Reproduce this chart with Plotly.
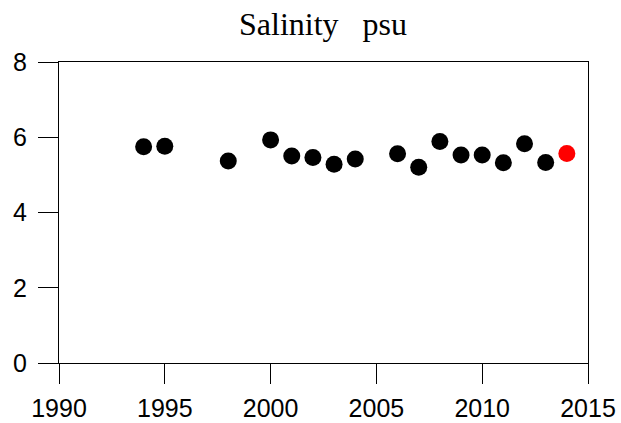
import plotly.graph_objects as go

# Annual mean salinity (psu)
years = [1994, 1995, 1998, 2000, 2001, 2002, 2003, 2004, 2006, 2007,
         2008, 2009, 2010, 2011, 2012, 2013]
salinity = [5.75, 5.76, 5.37, 5.93, 5.50, 5.46, 5.28, 5.42, 5.56, 5.20,
            5.89, 5.53, 5.53, 5.32, 5.83, 5.33]

# Latest year, highlighted
latest_year = [2014]
latest_salinity = [5.57]

x_ticks = [1990, 1995, 2000, 2005, 2010, 2015]
y_ticks = [0, 2, 4, 6, 8]

fig = go.Figure()
fig.add_trace(go.Scatter(
    x=years, y=salinity, mode="markers",
    marker=dict(size=17, color="black", line=dict(width=0)),
    showlegend=False, cliponaxis=False,
))
fig.add_trace(go.Scatter(
    x=latest_year, y=latest_salinity, mode="markers",
    marker=dict(size=17, color="red", line=dict(width=0)),
    showlegend=False, cliponaxis=False,
))

axis_font = dict(family="Liberation Sans, Arial, sans-serif", size=25, color="black")

fig.update_layout(
    width=621, height=423,
    margin=dict(l=59, r=33, t=62, b=60),
    paper_bgcolor="white", plot_bgcolor="white",
    title=dict(
        text="Salinity\u00a0\u00a0\u00a0psu",
        x=323 / 621, xanchor="center", y=1 - 24 / 423, yanchor="middle",
        font=dict(family="Liberation Serif, Times New Roman, serif", size=32, color="black"),
    ),
    xaxis=dict(
        range=[1990, 2015], tickvals=x_ticks, ticktext=[str(v) for v in x_ticks],
        showgrid=False, zeroline=False, automargin=False,
        showline=True, linecolor="black", linewidth=1, mirror=True,
        ticks="outside", ticklen=20, tickwidth=1, tickcolor="black",
        tickfont=axis_font, ticklabelstandoff=3,
    ),
    yaxis=dict(
        range=[0, 8], tickvals=y_ticks, ticktext=[str(v) for v in y_ticks],
        showgrid=False, zeroline=False, automargin=False,
        showline=True, linecolor="black", linewidth=1, mirror=True,
        ticks="outside", ticklen=20, tickwidth=1, tickcolor="black",
        tickfont=axis_font, ticklabelstandoff=6,
    ),
)

fig.write_html("out.html")
